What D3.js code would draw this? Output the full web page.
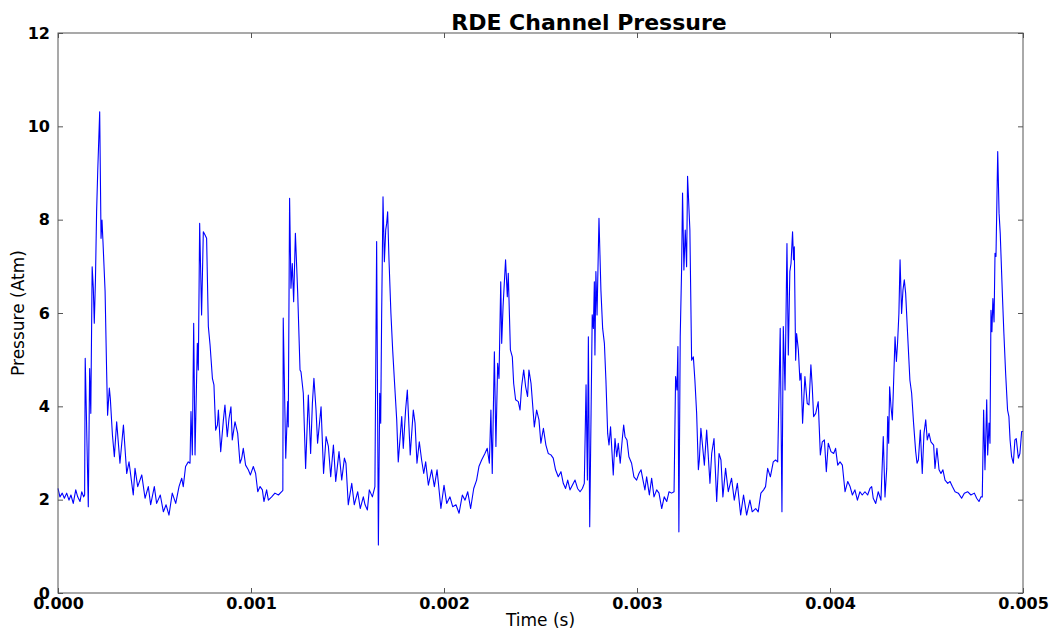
<!DOCTYPE html>
<html>
<head>
<meta charset="utf-8">
<script src="https://cdn.jsdelivr.net/npm/d3@7"></script>
<style>
    body { margin: 0; background: #fff; }
    svg { display: block; font-family: "DejaVu Sans", sans-serif; }
    .tick line { stroke: #555; }
    .tick text { font-family: "DejaVu Sans", sans-serif; font-size: 16px; font-weight: bold; fill: #000; }
</style>
</head>
<body>
<div id="chart"></div>
<script>
// pressure trace (time in microseconds, pressure in atm)
var timeUs = [
    0, 10, 22, 33, 45, 57, 67, 79, 92, 102, 114, 123, 133, 138,
    141, 157, 164, 170, 177, 183, 188, 194, 200, 206, 216, 223, 228, 233, 244, 252,
    257, 266, 271, 282, 292, 304, 321, 339, 356, 368, 390, 399, 413, 434, 451, 468,
    480, 499, 511, 530, 546, 560, 575, 592, 610, 627, 641, 649, 661, 675, 684,
    689, 696, 703, 710, 722, 727, 734, 744, 753, 762, 770, 779, 788, 800, 808, 817,
    826, 831, 843,
    857, 865, 877, 886, 896, 903, 917, 931, 943, 952, 960, 972, 986, 997, 1012, 1024,
    1035, 1047, 1059, 1067, 1081, 1090, 1107, 1124, 1142, 1159, 1165,
    1167, 1180, 1190, 1193, 1200, 1207, 1214, 1221, 1230, 1242, 1254, 1259, 1271, 1283,
    1297, 1309, 1318, 1326, 1337, 1345, 1363, 1376, 1389, 1401, 1413, 1427, 1439, 1456,
    1470, 1484, 1492, 1504, 1522, 1535, 1553, 1566, 1582, 1591, 1603, 1613, 1629, 1642,
    1651, 1660, 1667, 1672, 1677, 1684, 1691, 1698, 1703, 1708, 1715, 1725, 1734, 1743,
    1755, 1763, 1781, 1789, 1801, 1810, 1825, 1841, 1850, 1860, 1872, 1884, 1895, 1905,
    1919, 1936, 1950, 1964, 1984, 2000, 2014, 2031, 2045, 2062, 2078, 2095, 2109, 2123,
    2138, 2154, 2169, 2181, 2195, 2212, 2224, 2235, 2243, 2250, 2261, 2269, 2278, 2285,
    2294, 2299, 2306, 2319, 2328, 2333, 2344, 2354, 2361, 2371, 2385, 2394, 2402, 2413,
    2423, 2433, 2440, 2451, 2468, 2480, 2492,
    2502, 2515, 2528, 2540, 2554, 2566, 2578, 2592, 2606, 2618, 2630, 2641, 2653, 2665,
    2679, 2692, 2705, 2717, 2727, 2736, 2743, 2748, 2755, 2762, 2768, 2774, 2779, 2782,
    2787, 2793, 2803, 2813, 2822, 2831, 2839, 2848, 2855, 2863, 2877, 2886, 2895, 2903,
    2913, 2924, 2931, 2938, 2948, 2958, 2972, 2984, 2998, 3010, 3021, 3031, 3041, 3050,
    3064, 3076, 3088, 3102, 3114, 3128, 3141, 3154, 3166, 3179, 3192, 3200, 3207, 3212,
    3217, 3224, 3231, 3236, 3243, 3250, 3257, 3262, 3274, 3283, 3292, 3300, 3309, 3318,
    3323, 3331, 3340, 3349, 3361, 3378, 3387, 3399, 3413, 3425, 3435, 3445, 3459, 3473,
    3490, 3504, 3520, 3537, 3552, 3568, 3585, 3597, 3615, 3628, 3642, 3656, 3666, 3677,
    3691, 3706, 3718, 3729, 3742, 3751, 3758, 3767, 3777, 3784, 3792, 3798, 3806, 3811,
    3815, 3822, 3827, 3836, 3844, 3850, 3858, 3870, 3882, 3891, 3901, 3908, 3915, 3926,
    3939, 3950, 3960, 3971, 3981, 3991, 4005, 4019, 4029, 4040, 4052, 4064, 4078, 4092,
    4104, 4116, 4129, 4142,
    4155, 4167, 4181, 4195, 4207, 4216, 4224, 4237, 4250, 4264, 4276, 4285, 4294, 4299,
    4304, 4309, 4316, 4323, 4328, 4337, 4344, 4350, 4357, 4363, 4371, 4378, 4385, 4392,
    4402, 4414, 4423, 4433, 4444, 4451, 4458, 4468, 4478, 4487, 4496, 4504, 4513, 4523,
    4537, 4544, 4554, 4565, 4575, 4585, 4596, 4610, 4622, 4634, 4648, 4665, 4682, 4696,
    4713, 4730, 4748, 4760, 4772, 4782, 4789, 4796, 4803, 4812, 4817, 4824, 4829, 4834,
    4839, 4844, 4850, 4855, 4860, 4869, 4876, 4882, 4893, 4901, 4910, 4920, 4927, 4933,
    4941, 4950, 4958, 4965, 4976, 4984, 4993, 5000
];

var pressure = [
    2.24, 2.06, 2.14, 2.03, 2.14, 1.99, 2.10, 1.92, 2.21, 2.06, 1.96, 2.17, 2.06, 2.10,
    5.03, 1.85, 4.81, 3.85, 6.99, 6.53, 5.78, 6.70, 8.17, 9.06, 10.31, 7.60, 7.99, 7.53, 6.46, 4.74,
    3.81, 4.39, 4.17, 3.39, 2.92, 3.67, 2.78, 3.60, 2.56, 2.81, 2.10, 2.67, 2.28, 2.53, 2.03, 2.28,
    1.89, 2.28, 1.92, 2.10, 1.74, 1.89, 1.67, 2.14, 1.92, 2.28, 2.46, 2.28, 2.71, 2.81, 2.78,
    3.89, 2.96, 5.78, 2.96, 5.35, 4.78, 7.92, 5.96, 7.74, 7.67, 7.60, 5.71, 5.31, 4.60, 4.46, 3.49,
    3.60, 3.92, 3.03,
    3.71, 4.03, 3.35, 3.74, 3.99, 3.28, 3.67, 3.42, 2.78, 2.89, 3.10, 2.74, 2.64, 2.53, 2.71, 2.56,
    2.17, 2.28, 2.21, 1.96, 2.21, 1.99, 2.06, 2.14, 2.10, 2.17, 2.20,
    5.89, 2.89, 4.10, 3.56, 8.46, 6.53, 7.06, 6.24, 7.71, 6.42, 4.78, 4.74, 4.28, 2.67,
    4.24, 2.99, 4.06, 4.60, 3.92, 3.21, 3.99, 2.56, 3.35, 3.14, 2.49, 3.17, 2.39, 3.03,
    2.42, 2.89, 2.78, 1.89, 2.35, 1.89, 2.17, 1.81, 2.06, 1.89, 1.78, 2.21, 2.06, 2.28,
    7.53, 1.03, 4.28, 3.64, 5.99, 8.49, 7.10, 7.78, 7.92, 8.17, 7.14, 5.99, 5.21, 4.56,
    3.71, 2.81, 3.78, 3.10, 3.92, 4.35, 2.96, 3.92, 3.64, 2.78, 3.24, 2.85, 2.56, 2.81,
    2.31, 2.64, 2.28, 2.64, 1.81, 2.31, 1.92, 2.06, 1.85, 1.89, 1.71, 2.10, 1.99, 2.17,
    1.81, 2.24, 2.42, 2.71, 2.85, 2.99, 3.10, 2.78, 3.92, 2.56, 5.17, 3.14, 4.92, 4.60,
    6.67, 5.35, 6.14, 7.14, 6.35, 6.85, 5.21, 5.06, 4.49, 4.14, 4.10, 3.92, 4.42, 4.78,
    4.42, 4.21, 4.78, 4.49, 3.56, 3.92, 3.71,
    3.21, 3.53, 3.17, 2.99, 2.96, 2.89, 2.64, 2.49, 2.60, 2.35, 2.24, 2.42, 2.21, 2.31,
    2.42, 2.24, 2.17, 2.24, 2.35, 4.46, 2.42, 5.49, 1.42, 3.85, 5.96, 5.67, 6.67, 5.10,
    6.89, 5.96, 8.03, 6.49, 5.67, 5.35, 4.56, 3.42, 3.17, 3.56, 2.53, 3.31, 2.92, 3.21,
    2.78, 3.31, 3.60, 3.35, 3.28, 2.92, 2.78, 2.49, 2.42, 2.56, 2.64, 2.42, 2.21, 2.49,
    2.10, 2.46, 2.06, 2.21, 2.14, 1.81, 2.06, 1.96, 2.17, 2.14, 2.17, 4.64, 4.35, 5.28,
    1.31, 5.49, 6.92, 8.57, 6.92, 7.78, 6.99, 8.93, 7.78, 4.99, 5.06, 4.56, 3.85, 2.64,
    2.85, 3.53, 3.14, 2.74, 3.49, 2.35, 2.99, 3.31, 1.96, 2.99, 2.85, 2.06, 2.67, 2.17,
    2.46, 1.99, 2.35, 1.67, 2.10, 1.67, 1.99, 1.74, 1.81, 1.74, 2.14, 2.21, 2.28, 2.67,
    2.49, 2.81, 2.85, 2.81, 5.67, 1.74, 5.71, 4.35, 7.49, 5.10, 6.89, 7.06, 7.74, 7.14,
    7.42, 4.99, 5.56, 5.21, 4.56, 4.71, 3.64, 4.64, 4.06, 4.03, 4.89, 4.42, 3.78, 3.85,
    4.10, 2.96, 3.24, 3.28, 2.60, 3.21, 3.03, 2.99, 3.10, 2.74, 2.81, 2.74, 2.17, 2.39,
    2.28, 2.10, 2.21, 1.99,
    2.17, 2.10, 2.17, 2.10, 2.24, 2.28, 2.03, 1.92, 2.17, 1.99, 3.35, 2.06, 2.67, 3.78,
    3.21, 4.42, 3.99, 3.71, 4.31, 5.49, 4.96, 5.35, 5.99, 7.14, 5.99, 6.49, 6.71, 6.42,
    5.56, 4.56, 4.28, 3.64, 3.03, 2.78, 2.85, 3.49, 2.56, 3.42, 3.71, 3.28, 3.42, 3.24,
    3.17, 2.67, 3.10, 2.64, 2.56, 2.64, 2.42, 2.35, 2.39, 2.28, 2.17, 2.14, 2.03, 2.14,
    2.17, 2.10, 2.14, 2.03, 1.96, 2.06, 2.06, 3.92, 2.64, 4.14, 2.96, 3.64, 3.21, 6.06,
    5.60, 6.31, 5.81, 7.28, 7.21, 9.46, 8.14, 7.71, 6.42, 5.56, 4.71, 3.92, 3.78, 3.28,
    2.92, 2.78, 3.28, 3.31, 2.89, 2.99, 3.46, 3.46
];

var xTicks = [0, 0.001, 0.002, 0.003, 0.004, 0.005];
var yTicks = [0, 2, 4, 6, 8, 10, 12];

var chartTitle = "RDE Channel Pressure",
    xTitle = "Time (s)",
    yTitle = "Pressure (Atm)";

function pressure_chart(_containerId) {
    var WIDTH = 1056, HEIGHT = 631,
        margin = {top: 33, right: 33, bottom: 38, left: 58},
        w = WIDTH - margin.left - margin.right,
        h = HEIGHT - margin.top - margin.bottom;

    var points = timeUs.map(function (t, i) {
        return {t: t * 1e-6, p: pressure[i]};
    });

    var x = d3.scaleLinear().domain([0, 0.005]).range([0, w]);
    var y = d3.scaleLinear().domain([0, 12]).range([h, 0]);

    var svg = d3.select(_containerId).append("svg")
        .attr("width", WIDTH)
        .attr("height", HEIGHT);

    var g = svg.append("g")
        .attr("transform", "translate(" + margin.left + "," + margin.top + ")");

    // the trace
    g.append("path")
        .datum(points)
        .attr("fill", "none")
        .attr("stroke", "#0000ff")
        .attr("stroke-width", 1.1)
        .attr("stroke-linejoin", "round")
        .attr("d", d3.line()
            .x(function (d) { return x(d.t); })
            .y(function (d) { return y(d.p); }));

    // inward ticks on all four sides (matplotlib style)
    g.append("g")
        .attr("transform", "translate(0," + h + ")")
        .call(d3.axisBottom(x).tickValues(xTicks).tickFormat(d3.format(".3f"))
            .tickSizeInner(-5).tickSizeOuter(0).tickPadding(5));
    g.append("g")
        .call(d3.axisLeft(y).tickValues(yTicks).tickFormat(d3.format("d"))
            .tickSizeInner(-5).tickSizeOuter(0).tickPadding(8));
    g.append("g")
        .call(d3.axisTop(x).tickValues(xTicks).tickFormat("")
            .tickSizeInner(-5).tickSizeOuter(0));
    g.append("g")
        .attr("transform", "translate(" + w + ",0)")
        .call(d3.axisRight(y).tickValues(yTicks).tickFormat("")
            .tickSizeInner(-5).tickSizeOuter(0));

    g.selectAll(".domain").remove();

    g.append("rect")
        .attr("x", 0).attr("y", 0)
        .attr("width", w).attr("height", h)
        .attr("fill", "none")
        .attr("stroke", "#555")
        .attr("stroke-width", 1);

    svg.append("text")
        .attr("x", 589)
        .attr("y", 30)
        .attr("text-anchor", "middle")
        .style("font-size", "22px")
        .style("font-weight", "bold")
        .text(chartTitle);

    svg.append("text")
        .attr("x", margin.left + w / 2)
        .attr("y", 626)
        .attr("text-anchor", "middle")
        .style("font-size", "17px")
        .text(xTitle);

    svg.append("text")
        .attr("transform", "translate(24," + (margin.top + h / 2) + ")rotate(-90)")
        .attr("text-anchor", "middle")
        .style("font-size", "17px")
        .text(yTitle);
}

pressure_chart("#chart");
</script>
</body>
</html>
